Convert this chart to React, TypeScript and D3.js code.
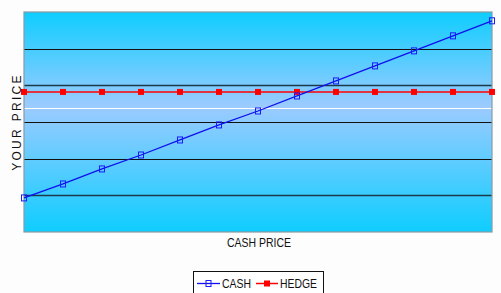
import React from "react";
import * as d3 from "d3";

const categories = ["1","2","3","4","5","6","7","8","9","10","11","12","13"];
const cashValues = [9.3, 13.1, 17.2, 21.0, 25.1, 29.2, 33.0, 37.1, 41.2, 45.3, 49.4, 53.5, 57.6];
const hedgeValues = [38.2, 38.2, 38.2, 38.2, 38.2, 38.2, 38.2, 38.2, 38.2, 38.2, 38.2, 38.2, 38.2];
const yTicks = [10, 20, 30, 40, 50];
const xTitle = "CASH PRICE";
const yTitle = "YOUR PRICE";
const seriesNames = ["CASH", "HEDGE"];

export default function App() {
  const W = 501, H = 293;
  const L = 24, T = 12, R = 492, B = 232;
  const x = d3.scalePoint<string>().domain(categories).range([L, R]);
  const y = d3.scaleLinear().domain([0, 60]).range([B, T]);
  const line = d3.line<number>().x((_, i) => x(categories[i])!).y((d) => y(d));
  const font = "'Liberation Sans', Arial, sans-serif";
  return (
    <svg width={W} height={H} style={{ position: "absolute", left: 0, top: 0, background: "#fdfdfd" }}>
      <defs>
        <linearGradient id="bg" x1="0" y1="0" x2="0" y2="1">
          <stop offset="0" stopColor="#0fcdff" />
          <stop offset="0.43" stopColor="#9ccbff" />
          <stop offset="1" stopColor="#0fcdff" />
        </linearGradient>
      </defs>
      <rect x={L} y={T} width={R - L} height={B - T} fill="url(#bg)" />
      <line x1={L} x2={R} y1={108.5} y2={108.5} stroke="#ffffff" strokeWidth={1} />
      {yTicks.map((t) => (
        <line key={t} x1={L} x2={R} y1={Math.round(y(t)) + 0.5} y2={Math.round(y(t)) + 0.5}
          stroke={t === 40 || t === 10 ? "#1a3a4a" : "#111"} strokeWidth={t === 40 || t === 10 ? 1.3 : 1} />
      ))}
      <rect x={L} y={T} width={R - L} height={B - T} fill="none" stroke="#8a9aa0" strokeWidth={1.2} />
      <path d={line(hedgeValues)!} fill="none" stroke="#ff0000" strokeWidth={1.5} />
      <path d={line(cashValues)!} fill="none" stroke="#1010ee" strokeWidth={1.3} />
      {hedgeValues.map((v, i) => (
        <rect key={"h" + i} x={x(categories[i])! - 3} y={y(v) - 3} width={6} height={6} fill="#ff0000" />
      ))}
      {cashValues.map((v, i) => (
        <rect key={"c" + i} x={x(categories[i])! - 2.5} y={y(v) - 3} width={5} height={6} fill="none" stroke="#1a1aff" strokeWidth={1} />
      ))}
      <text x={(L + R) / 2 + 1} y={247} textAnchor="middle" fontFamily={font} fontSize={13.5} textLength={64} lengthAdjust="spacingAndGlyphs" fill="#111">{xTitle}</text>
      <text transform={`translate(21,${(T + B) / 2}) rotate(-90)`} textAnchor="middle" fontFamily={font} fontSize={12} letterSpacing={2.3} fill="#111">{yTitle}</text>
      <rect x={193.5} y={271.5} width={130} height={30} fill="#fff" stroke="#111" strokeWidth={1} />
      <line x1={197} x2={220} y1={283.5} y2={283.5} stroke="#1010ee" strokeWidth={1.3} />
      <rect x={206} y={280.5} width={5} height={6} fill="none" stroke="#1a1aff" />
      <text x={222} y={287.5} fontFamily={font} fontSize={13} textLength={29} lengthAdjust="spacingAndGlyphs" fill="#111">{seriesNames[0]}</text>
      <line x1={256} x2={278} y1={283.5} y2={283.5} stroke="#ff0000" strokeWidth={1.5} />
      <rect x={264} y={280.5} width={6} height={6} fill="#ff0000" />
      <text x={280} y={287.5} fontFamily={font} fontSize={13} textLength={37} lengthAdjust="spacingAndGlyphs" fill="#111">{seriesNames[1]}</text>
    </svg>
  );
}
